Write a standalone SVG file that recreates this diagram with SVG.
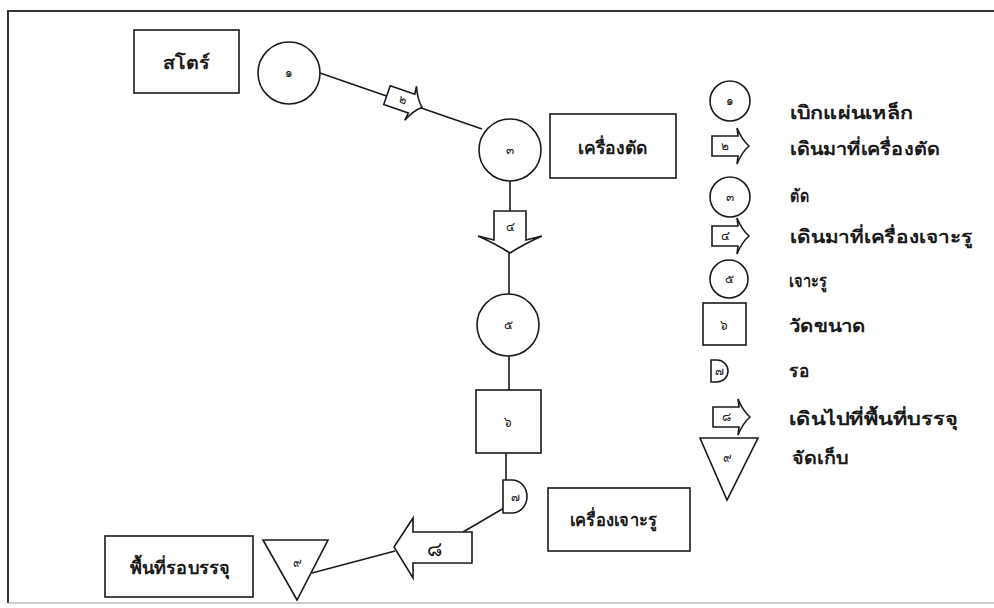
<svg xmlns="http://www.w3.org/2000/svg" width="994" height="608" viewBox="0 0 994 608">
<style>
.ln{stroke:#1a1a1a;stroke-width:1.6;fill:none}
.sh{stroke:#1a1a1a;stroke-width:1.6;fill:#fff}
.lbl{font-family:"Noto Sans","Liberation Sans",sans-serif;font-size:18px;font-weight:bold;fill:#1a1a1a}
.num{font-family:"Noto Sans","Liberation Sans",sans-serif;font-size:12px;fill:#1a1a1a;text-anchor:middle}
.big{font-family:"Noto Sans","Liberation Sans",sans-serif;font-size:20px;fill:#1a1a1a;text-anchor:middle}
</style>
<defs>
<path id="arr" d="M-18,-10 H8 L7,-18 Q12,-6 19,0 Q12,6 7,18 L8,10 H-18 Z"/>
</defs>
<rect width="994" height="608" fill="#fff"/>
<g id="frame">
<path d="M8,603 V11 H994" stroke="#333" stroke-width="2" fill="none"/>
<path d="M8,603 H994" stroke="#999" stroke-width="1.2" fill="none"/>
</g>
<g id="connectors">
<path class="ln" d="M320,73 L482,129"/>
<path class="ln" d="M510,181 V211"/>
<path class="ln" d="M509,252 V294"/>
<path class="ln" d="M509,356 V390"/>
<path class="ln" d="M506,453 V480"/>
<path class="ln" d="M504,508 L463,532"/>
<path class="ln" d="M395,551 L312,573"/>
</g>
<g id="store"><rect class="sh" x="134" y="30" width="105" height="63"/><text class="lbl" x="163" y="69" textLength="47" lengthAdjust="spacingAndGlyphs">สโตร์</text></g>
<g id="n1"><circle class="sh" cx="289" cy="73" r="31"/><text class="num" x="289" y="77">๑</text></g>
<g id="n2"><use href="#arr" class="sh" transform="translate(404,101) rotate(19)"/><text class="num" x="403" y="104" transform="rotate(19 403 100)">๒</text></g>
<g id="n3"><circle class="sh" cx="510" cy="150" r="31"/><text class="num" x="510" y="154">๓</text></g>
<g id="cutter"><rect class="sh" x="550" y="114" width="126" height="64"/><text class="lbl" x="578" y="154" textLength="70" lengthAdjust="spacingAndGlyphs">เครื่องตัด</text></g>
<g id="n4"><path class="sh" d="M494,211 H526 V240 L542,236 Q524,244 510,253 Q496,244 478,236 L494,240 Z"/><text class="num" x="510" y="231">๔</text></g>
<g id="n5"><circle class="sh" cx="508" cy="325" r="31"/><text class="num" x="508" y="329">๕</text></g>
<g id="n6"><rect class="sh" x="476" y="390" width="65" height="63"/><text class="num" x="508" y="426">๖</text></g>
<g id="n7"><path class="sh" d="M503,480 H512 A15,16.5 0 0 1 512,513 H503 Z"/><text class="num" x="515" y="501">๗</text></g>
<g id="driller"><rect class="sh" x="548" y="488" width="142" height="63"/><text class="lbl" x="570" y="526" textLength="87" lengthAdjust="spacingAndGlyphs">เครื่องเจาะรู</text></g>
<g id="n8"><path class="sh" d="M472,532 V563 H413 V578 L394,547 L413,518 V532 Z"/><text class="big" x="434" y="556">๘</text></g>
<g id="n9"><path class="sh" d="M263,540 H328 L297,600 Z"/><text class="num" x="297" y="567">๙</text></g>
<g id="packing"><rect class="sh" x="105" y="536" width="148" height="61"/><text class="lbl" x="130" y="574" textLength="100" lengthAdjust="spacingAndGlyphs">พื้นที่รอบรรจุ</text></g>
<g id="legend">
<g id="lg1"><circle class="sh" cx="730" cy="101" r="20"/><text class="num" x="730" y="105">๑</text><text class="lbl" x="790" y="119" textLength="123" lengthAdjust="spacingAndGlyphs">เบิกแผ่นเหล็ก</text></g>
<g id="lg2"><use href="#arr" class="sh" transform="translate(730,146)"/><text class="num" x="725" y="150">๒</text><text class="lbl" x="790" y="155" textLength="150" lengthAdjust="spacingAndGlyphs">เดินมาที่เครื่องตัด</text></g>
<g id="lg3"><circle class="sh" cx="730" cy="197" r="20"/><text class="num" x="730" y="201">๓</text><text class="lbl" x="790" y="202" textLength="19" lengthAdjust="spacingAndGlyphs">ตัด</text></g>
<g id="lg4"><use href="#arr" class="sh" transform="translate(730,236)"/><text class="num" x="725" y="240">๔</text><text class="lbl" x="790" y="243" textLength="183" lengthAdjust="spacingAndGlyphs">เดินมาที่เครื่องเจาะรู</text></g>
<g id="lg5"><circle class="sh" cx="729" cy="279" r="19"/><text class="num" x="729" y="283">๕</text><text class="lbl" x="789" y="287" textLength="38" lengthAdjust="spacingAndGlyphs">เจาะรู</text></g>
<g id="lg6"><rect class="sh" x="703" y="303" width="43" height="42"/><text class="num" x="724" y="329">๖</text><text class="lbl" x="789" y="332" textLength="77" lengthAdjust="spacingAndGlyphs">วัดขนาด</text></g>
<g id="lg7"><path class="sh" d="M711,360 H717 A11,11 0 0 1 717,382 H711 Z"/><text class="num" x="719" y="375">๗</text><text class="lbl" x="789" y="377" textLength="20" lengthAdjust="spacingAndGlyphs">รอ</text></g>
<g id="lg8"><use href="#arr" class="sh" transform="translate(731,417)"/><text class="num" x="726" y="421">๘</text><text class="lbl" x="789" y="425" textLength="169" lengthAdjust="spacingAndGlyphs">เดินไปที่พื้นที่บรรจุ</text></g>
<g id="lg9"><path class="sh" d="M700,438 H758 L727,500 Z"/><text class="num" x="727" y="462">๙</text><text class="lbl" x="792" y="464" textLength="56" lengthAdjust="spacingAndGlyphs">จัดเก็บ</text></g>
</g>
</svg>
